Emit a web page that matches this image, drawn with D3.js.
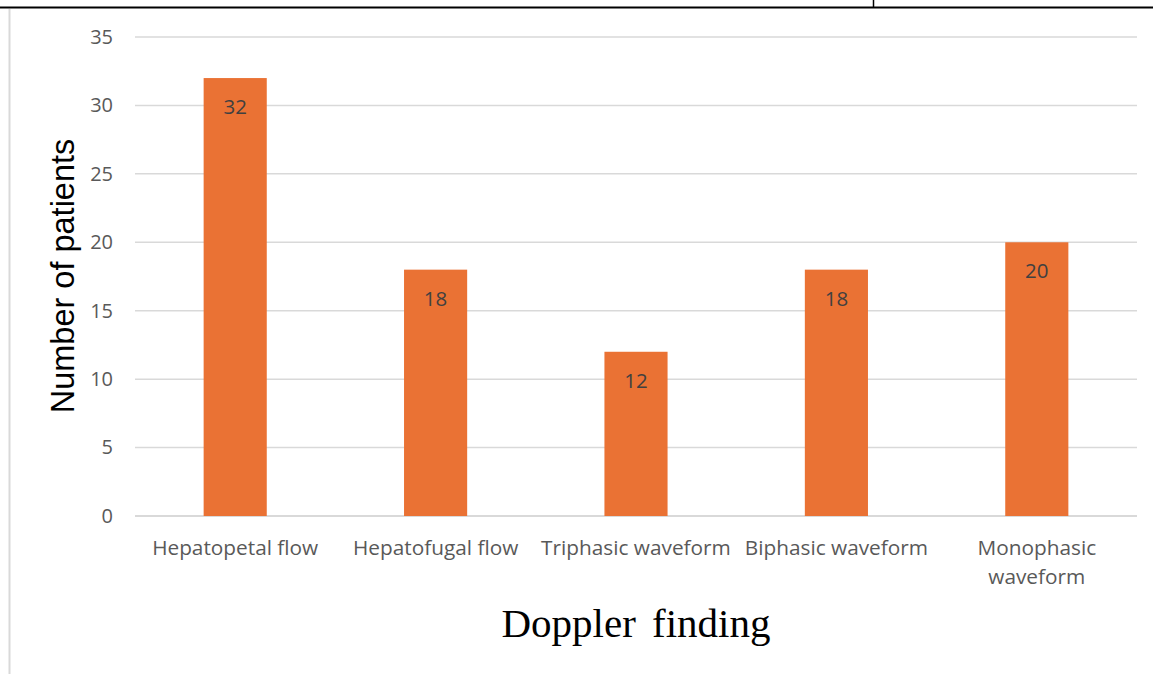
<!DOCTYPE html>
<html>
<head>
<meta charset="utf-8">
<script src="https://cdn.jsdelivr.net/npm/d3@7/dist/d3.min.js"></script>
<style>
  body { margin: 0; background: #fff; }
  svg { display: block; }
</style>
</head>
<body>
<div id="main"></div>
<script>
// chart data
var categories = ['Hepatopetal flow', 'Hepatofugal flow', 'Triphasic waveform', 'Biphasic waveform', 'Monophasic waveform'];
var patients = [32, 18, 12, 18, 20];
var yTicks = [0, 5, 10, 15, 20, 25, 30, 35];

var width = 1153, height = 674;
var plot = { left: 135, right: 1137, top: 37, bottom: 516 };

var svg = d3.select('#main').append('svg')
  .attr('width', width)
  .attr('height', height);

// page frame bits (table border above the figure)
svg.append('line').attr('x1', 0).attr('x2', width).attr('y1', 7.5).attr('y2', 7.5)
  .attr('stroke', '#000').attr('stroke-width', 2);
svg.append('line').attr('x1', 873.5).attr('x2', 873.5).attr('y1', 0).attr('y2', 7)
  .attr('stroke', '#000').attr('stroke-width', 1.5);
svg.append('line').attr('x1', 9.5).attr('x2', 9.5).attr('y1', 9).attr('y2', height)
  .attr('stroke', '#d9d9d9').attr('stroke-width', 2);

var x = d3.scaleBand()
  .domain(categories)
  .range([plot.left, plot.right])
  .paddingInner(0.685)
  .paddingOuter(0.3425);

var y = d3.scaleLinear()
  .domain([0, 35])
  .range([plot.bottom, plot.top]);

// gridlines
svg.append('g')
  .selectAll('line')
  .data(yTicks)
  .enter()
  .append('line')
  .attr('x1', plot.left)
  .attr('x2', plot.right)
  .attr('y1', function(d) { return y(d); })
  .attr('y2', function(d) { return y(d); })
  .attr('stroke', '#d9d9d9')
  .attr('stroke-width', function(d) { return d === 0 ? 2 : 1.5; });

// y axis labels
var yAxis = svg.append('g')
  .attr('transform', 'translate(' + (plot.left - 22) + ',0)')
  .call(d3.axisLeft(y).tickValues(yTicks).tickSize(0).tickPadding(0));
yAxis.select('.domain').remove();
yAxis.selectAll('text')
  .attr('font-family', 'Open Sans, sans-serif')
  .attr('font-size', 20)
  .attr('fill', '#595959');

// bars
svg.append('g')
  .selectAll('rect')
  .data(patients)
  .enter()
  .append('rect')
  .attr('x', function(d, i) { return x(categories[i]); })
  .attr('y', function(d) { return y(d); })
  .attr('width', x.bandwidth())
  .attr('height', function(d) { return y(0) - y(d); })
  .attr('fill', '#ea7234');

// value labels
svg.append('g')
  .selectAll('text')
  .data(patients)
  .enter()
  .append('text')
  .attr('x', function(d, i) { return x(categories[i]) + x.bandwidth() / 2; })
  .attr('y', function(d) { return y(d) + 36; })
  .attr('text-anchor', 'middle')
  .attr('font-family', 'Open Sans, sans-serif')
  .attr('font-size', 20.5)
  .attr('fill', '#404040')
  .text(function(d) { return d; });

// category labels (wrapped like the original)
var catLines = {
  'Monophasic waveform': ['Monophasic', 'waveform']
};
var catLabels = svg.append('g')
  .selectAll('text')
  .data(categories)
  .enter()
  .append('text')
  .attr('text-anchor', 'middle')
  .attr('font-family', 'Open Sans, sans-serif')
  .attr('font-size', 20.8)
  .attr('fill', '#595959');
catLabels.each(function(d) {
  var lines = catLines[d] || [d];
  var t = d3.select(this);
  lines.forEach(function(line, k) {
    t.append('tspan')
      .attr('x', x(d) + x.bandwidth() / 2)
      .attr('y', 555 + k * 29)
      .text(line);
  });
});

// axis titles
svg.append('text')
  .attr('transform', 'translate(74,276) rotate(-90)')
  .attr('text-anchor', 'middle')
  .attr('font-family', 'Liberation Sans, Arial, sans-serif')
  .attr('font-size', 32.5)
  .attr('fill', '#000')
  .text('Number of patients');

svg.append('text')
  .attr('x', 636)
  .attr('y', 637)
  .attr('text-anchor', 'middle')
  .attr('font-family', 'Liberation Serif, Times New Roman, serif')
  .attr('font-size', 41)
  .attr('word-spacing', 6)
  .attr('fill', '#000')
  .text('Doppler finding');
</script>
</body>
</html>
